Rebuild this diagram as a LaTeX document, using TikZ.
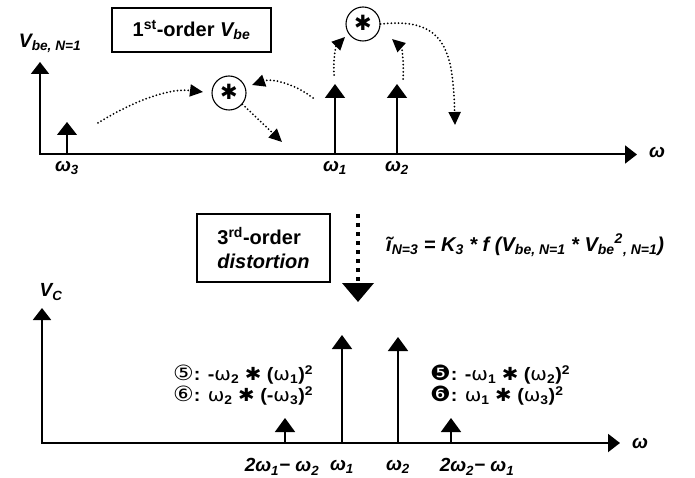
\documentclass[tikz,border=0pt]{standalone}
\usepackage{fontspec}
\setmainfont{Liberation Sans}
\newfontfamily\dejavu{DejaVu Sans}
\newcommand{\djv}[1]{{\dejavu\mdseries #1}}
\newcommand{\cdig}[1]{{\dejavu\mdseries\fontsize{21}{21}\selectfont #1}}
\usetikzlibrary{arrows.meta}
\begin{document}
\begin{tikzpicture}[x=1pt,y=-1pt,
  axis/.style={line width=2pt,-{Triangle[length=12pt,width=18pt]}},
  spike/.style={line width=1.8pt,-{Triangle[length=14pt,width=20pt]}},
  thinspike/.style={line width=1.2pt,-{Triangle[length=13pt,width=20pt]}},
  dotarr/.style={line width=2pt,line cap=round,dash pattern=on 0pt off 3.6pt,-{Triangle[length=13pt,width=12pt]}},
  conv/.style={circle,draw,line width=1.1pt,minimum size=34pt,inner sep=0pt},
  boxed/.style={draw,line width=1.2pt,inner sep=0pt},
  wlbl/.style={inner sep=0pt,font=\bfseries\itshape\fontsize{19}{19}\selectfont},
  prod/.style={inner sep=0pt,anchor=west,font=\bfseries\fontsize{18}{18}\selectfont},
]
\useasboundingbox (0,0) rectangle (695,478);
\fill[white] (0,0) rectangle (695,478);

% ---------- top plot ----------
\coordinate (o1) at (40,154.5);
\coordinate (y1) at (40,62);
\coordinate (x1) at (637,154.5);
\draw[axis] (o1) -- (y1);
\draw[axis] ([xshift=-1pt]o1) -- (x1);
\node[wlbl] (w1lab) at (657,152) {ω};
\node[inner sep=0pt] (vbe) at (50,43) {\fontsize{19.5}{19.5}\selectfont\bfseries\itshape V\textsubscript{be, N=1}};

\coordinate (b3) at (67,154.5);  \coordinate (t3) at (67,122);
\coordinate (b1) at (335,154.5); \coordinate (t1) at (335,84);
\coordinate (b2) at (397,154.5); \coordinate (t2) at (397,84);
\draw[thinspike] (b3) -- (t3);
\draw[spike] (b1) -- (t1);
\draw[spike] (b2) -- (t2);
\node[wlbl] (lw3) at (67,168) {ω\textsubscript{3}};
\node[wlbl] (lw1) at (335,168) {ω\textsubscript{1}};
\node[wlbl] (lw2) at (397,168) {ω\textsubscript{2}};

\node[boxed,minimum width=159pt,minimum height=44pt,font=\bfseries\fontsize{20}{20}\selectfont] (box1) at (191.5,30)
  {1\textsuperscript{st}-order \textit{V\textsubscript{be}}};

\node[conv] (c1) at (229,93) {};
\node[conv] (c2) at (363,24) {};
\node[inner sep=0pt] (a1) at (229,92) {\dejavu\fontsize{21}{21}\selectfont ✱};
\node[inner sep=0pt] (a2) at (363,23) {\dejavu\fontsize{21}{21}\selectfont ✱};

\coordinate (s1) at (98,123);  \coordinate (e1) at (203,92);
\coordinate (s2) at (313,98);  \coordinate (e2) at (252,85);
\coordinate (e3) at (282,142);
\coordinate (s4) at (334,75);  \coordinate (e4) at (345,37);
\coordinate (s5) at (403,79);  \coordinate (e5) at (392,39);
\coordinate (e6) at (455,125);
\draw[dotarr] (s1) .. controls (135,100) and (170,88) .. (e1);
\draw[dotarr] (s2) .. controls (295,84) and (272,78) .. (e2);
\draw[dotarr] (c1.-40) -- (e3);
\draw[dotarr] (s4) .. controls (333,58) and (336,46) .. (e4);
\draw[dotarr] (s5) .. controls (404,62) and (402,48) .. (e5);
\draw[dotarr] (c2.east) .. controls (445,17) and (453,50) .. (e6);

% ---------- middle ----------
\node[boxed,minimum width=133pt,minimum height=68pt,align=left,font=\bfseries\fontsize{20}{24}\selectfont] (box2) at (263.5,248)
  {3\textsuperscript{rd}-order\\\textit{distortion}};
\coordinate (ds) at (358,214);
\coordinate (de) at (358,302);
\draw[line width=4pt,dash pattern=on 4pt off 5pt,-{Triangle[length=19pt,width=31pt]}] (ds) -- (de);
\node[inner sep=0pt,anchor=west,font=\bfseries\itshape\fontsize{20}{20}\selectfont] (formula) at (386,245)
  {ĩ\textsubscript{N=3} = K\textsubscript{3} * f (V\textsubscript{be, N=1} * V\textsubscript{be}\textsuperscript{2}\textsubscript{, N=1})};

% ---------- bottom plot ----------
\coordinate (o2) at (42,443);
\coordinate (y2) at (42,308);
\coordinate (x2) at (620,443);
\draw[axis] (o2) -- (y2);
\draw[axis] ([xshift=-1pt]o2) -- (x2);
\node[wlbl] (w2lab) at (640,443) {ω};
\node[inner sep=0pt,font=\bfseries\itshape\fontsize{19}{19}\selectfont] (vc) at (51,292) {V\textsubscript{C}};

\coordinate (bb1) at (285,443); \coordinate (tb1) at (285,418);
\coordinate (bb2) at (342,443); \coordinate (tb2) at (342,335);
\coordinate (bb3) at (398,443); \coordinate (tb3) at (398,337);
\coordinate (bb4) at (451,443); \coordinate (tb4) at (451,418);
\draw[spike] (bb1) -- (tb1);
\draw[spike] (bb2) -- (tb2);
\draw[spike] (bb3) -- (tb3);
\draw[spike] (bb4) -- (tb4);
\node[wlbl] (l21) at (282,467) {2ω\textsubscript{1}− ω\textsubscript{2}};
\node[wlbl] (l22) at (342,467) {ω\textsubscript{1}};
\node[wlbl] (l23) at (398,467) {ω\textsubscript{2}};
\node[wlbl] (l24) at (477,467) {2ω\textsubscript{2}− ω\textsubscript{1}};

\node[prod] (pl1) at (173,375)
  {\scalebox{1.1}[1]{\cdig{⑤}: -\djv{ω}\textsubscript{2} \djv{✱} (\djv{ω}\textsubscript{1})\textsuperscript{2}}};
\node[prod] (pl2) at (173,396)
  {\scalebox{1.1}[1]{\cdig{⑥}: \djv{ω}\textsubscript{2} \djv{✱} (-\djv{ω}\textsubscript{3})\textsuperscript{2}}};
\node[prod] (pr1) at (430,375)
  {\scalebox{1.1}[1]{\cdig{❺}: -\djv{ω}\textsubscript{1} \djv{✱} (\djv{ω}\textsubscript{2})\textsuperscript{2}}};
\node[prod] (pr2) at (430,396)
  {\scalebox{1.1}[1]{\cdig{❻}: \djv{ω}\textsubscript{1} \djv{✱} (\djv{ω}\textsubscript{3})\textsuperscript{2}}};
\end{tikzpicture}
\end{document}
